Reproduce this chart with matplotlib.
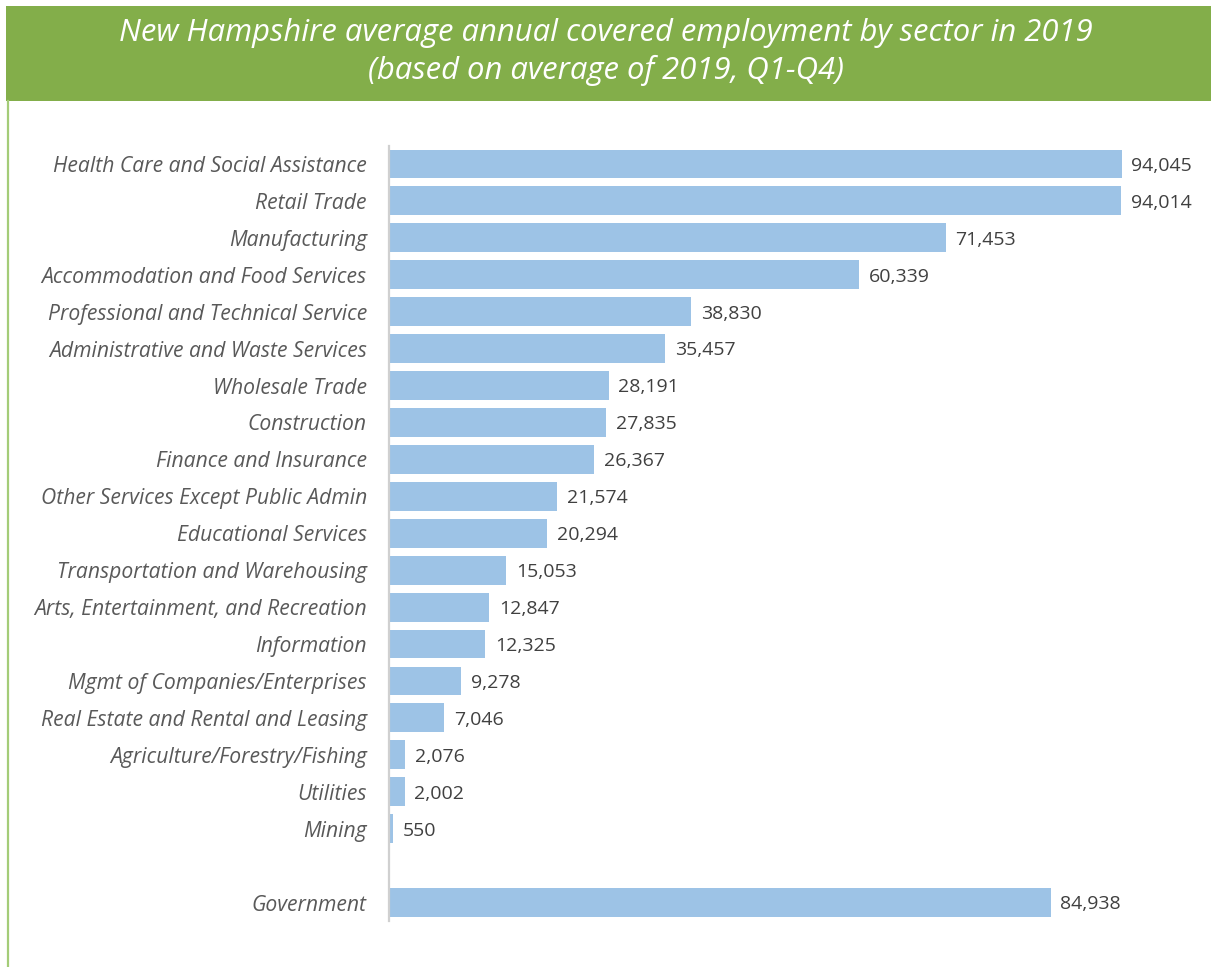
import matplotlib
matplotlib.use("Agg")
import matplotlib.pyplot as plt
from matplotlib.patches import Rectangle
from matplotlib.lines import Line2D

sectors = [
    "Health Care and Social Assistance",
    "Retail Trade",
    "Manufacturing",
    "Accommodation and Food Services",
    "Professional and Technical Service",
    "Administrative and Waste Services",
    "Wholesale Trade",
    "Construction",
    "Finance and Insurance",
    "Other Services Except Public Admin",
    "Educational Services",
    "Transportation and Warehousing",
    "Arts, Entertainment, and Recreation",
    "Information",
    "Mgmt of Companies/Enterprises",
    "Real Estate and Rental and Leasing",
    "Agriculture/Forestry/Fishing",
    "Utilities",
    "Mining",
    "",
    "Government",
]
employment = [
    94045, 94014, 71453, 60339, 38830, 35457, 28191, 27835, 26367,
    21574, 20294, 15053, 12847, 12325, 9278, 7046, 2076, 2002, 550,
    None, 84938,
]

title_lines = [
    "New Hampshire average annual covered employment by sector in 2019",
    "(based on average of 2019, Q1-Q4)",
]

W, H = 1211, 967
fig = plt.figure(figsize=(W / 100, H / 100), dpi=100)
fig.patch.set_facecolor("white")

# Green title banner and left accent rule
fig.add_artist(Rectangle((6 / W, 1 - 101 / H), 1 - 6 / W, 95 / H,
                         transform=fig.transFigure, facecolor="#83AE4A",
                         edgecolor="none", zorder=0))
fig.add_artist(Line2D([7.5 / W, 7.5 / W], [0, 1 - 101 / H],
                      transform=fig.transFigure, color="#A4CC78", lw=1.6))
fig.text(0.5, 1 - 33 / H, title_lines[0], ha="center", va="center",
         color="white", fontsize=22.3, style="italic", family="Open Sans")
fig.text(0.5, 1 - 70 / H, title_lines[1], ha="center", va="center",
         color="white", fontsize=22.3, style="italic", family="Open Sans")

ax_left, ax_right = 389 / W, 1168 / W
ax_top, ax_bottom = 1 - 145.5 / H, 1 - 921 / H
ax = fig.add_axes([ax_left, ax_bottom, ax_right - ax_left, ax_top - ax_bottom])

positions = list(range(len(sectors)))
bar_pos = [p for p, v in zip(positions, employment) if v is not None]
bar_val = [v for v in employment if v is not None]
ax.barh(bar_pos, bar_val, height=0.78, color="#9DC3E6", edgecolor="none")

for p, v in zip(bar_pos, bar_val):
    ax.text(v + 1250, p + 0.05, f"{v:,}", va="center", ha="left",
            fontsize=14, color="#404040", family="Open Sans")

ax.set_xlim(0, 100000)
ax.set_ylim(len(sectors) - 0.5, -0.5)
ax.set_yticks(positions)
ax.set_yticklabels(sectors, fontsize=15.2, style="italic", color="#595959",
                   family="Open Sans")
ax.tick_params(axis="y", length=0, pad=16)
ax.set_xticks([])
for side in ("top", "right", "bottom"):
    ax.spines[side].set_visible(False)
ax.spines["left"].set_color("#D0D0D0")
ax.spines["left"].set_linewidth(1.6)

fig.savefig("out.png", dpi=100, facecolor="white")
